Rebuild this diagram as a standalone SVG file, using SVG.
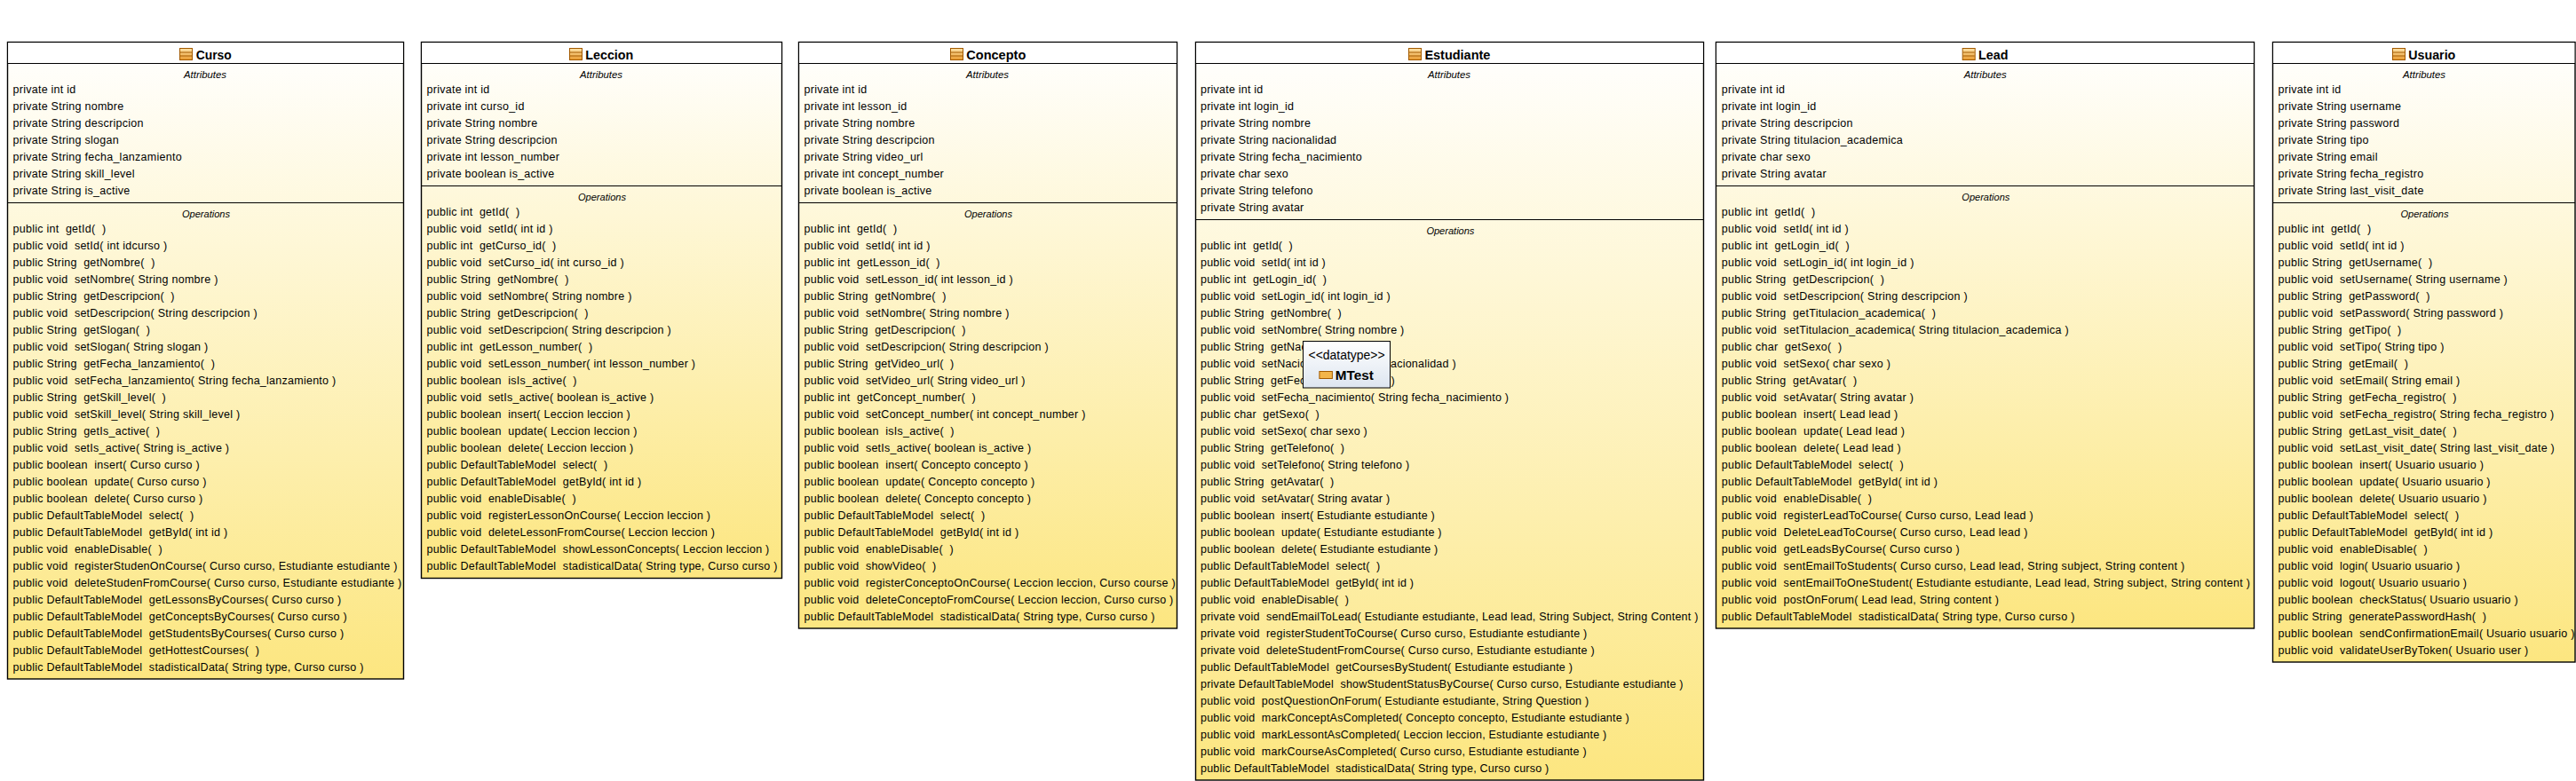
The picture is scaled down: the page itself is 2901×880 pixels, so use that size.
<svg xmlns="http://www.w3.org/2000/svg" width="2901" height="880" viewBox="0 0 2901 880">
<style>
text{font-family:"Liberation Sans",Arial,sans-serif;fill:#000;white-space:pre}
.m{font-size:12.5px;letter-spacing:.26px}
.es{letter-spacing:.22px}
.le{letter-spacing:.3px}
.h{font-size:11px;font-style:italic}
.t{font-size:14px;font-weight:bold}
.box{fill:url(#g);stroke:#000;stroke-width:1.4}
.ln{stroke:#000;stroke-width:1.2}
.tb{fill:#fff}
.dt{fill:url(#d);stroke:#000;stroke-width:1}
</style>
<defs>
<linearGradient id="g" x1="0" y1="0" x2="0" y2="1"><stop offset="0" stop-color="#fff"/><stop offset="1" stop-color="#fce680"/></linearGradient>
<linearGradient id="d" x1="0" y1="0" x2="0" y2="1"><stop offset="0" stop-color="#fff"/><stop offset="1" stop-color="#dde5f0"/></linearGradient>
<linearGradient id="o" x1="0" y1="0" x2="0" y2="1"><stop offset="0" stop-color="#fde3a8"/><stop offset="1" stop-color="#e89a30"/></linearGradient>
<g id="ic"><rect x=".5" y=".5" width="14" height="13" fill="url(#o)" stroke="#a35a00"/><path d="M1 5h13M1 9h13" stroke="#a35a00" stroke-width="1" fill="none"/></g>
</defs>
<rect width="2901" height="880" fill="#fff"/>
<g id="connectors"/>
<g id="Curso">
<rect class="box" x="8.5" y="47.5" width="446" height="717.5"/>
<rect class="tb" x="9.2" y="48.2" width="444.6" height="23"/>
<path class="ln" d="M8.5 71.5H454.5M8.5 228.5H454.5"/>
<use href="#ic" x="202" y="54"/>
<text class="t" x="220.7" y="66.7" textLength="40" lengthAdjust="spacingAndGlyphs">Curso</text>
<text class="h" x="207" y="88" textLength="48" lengthAdjust="spacingAndGlyphs">Attributes</text>
<text class="h" x="205" y="245" textLength="54" lengthAdjust="spacingAndGlyphs">Operations</text>
<g class="m">
<text x="14.5" y="105">private int id</text>
<text x="14.5" y="124">private String nombre</text>
<text x="14.5" y="143">private String descripcion</text>
<text x="14.5" y="162">private String slogan</text>
<text x="14.5" y="181">private String fecha_lanzamiento</text>
<text x="14.5" y="200">private String skill_level</text>
<text x="14.5" y="219">private String is_active</text>
<text x="14.5" y="262">public int  getId(  )</text>
<text x="14.5" y="281">public void  setId( int idcurso )</text>
<text x="14.5" y="300">public String  getNombre(  )</text>
<text x="14.5" y="319">public void  setNombre( String nombre )</text>
<text x="14.5" y="338">public String  getDescripcion(  )</text>
<text x="14.5" y="357">public void  setDescripcion( String descripcion )</text>
<text x="14.5" y="376">public String  getSlogan(  )</text>
<text x="14.5" y="395">public void  setSlogan( String slogan )</text>
<text x="14.5" y="414">public String  getFecha_lanzamiento(  )</text>
<text x="14.5" y="433">public void  setFecha_lanzamiento( String fecha_lanzamiento )</text>
<text x="14.5" y="452">public String  getSkill_level(  )</text>
<text x="14.5" y="471">public void  setSkill_level( String skill_level )</text>
<text x="14.5" y="490">public String  getIs_active(  )</text>
<text x="14.5" y="509">public void  setIs_active( String is_active )</text>
<text x="14.5" y="528">public boolean  insert( Curso curso )</text>
<text x="14.5" y="547">public boolean  update( Curso curso )</text>
<text x="14.5" y="566">public boolean  delete( Curso curso )</text>
<text x="14.5" y="585">public DefaultTableModel  select(  )</text>
<text x="14.5" y="604">public DefaultTableModel  getById( int id )</text>
<text x="14.5" y="623">public void  enableDisable(  )</text>
<text x="14.5" y="642">public void  registerStudenOnCourse( Curso curso, Estudiante estudiante )</text>
<text x="14.5" y="661">public void  deleteStudenFromCourse( Curso curso, Estudiante estudiante )</text>
<text x="14.5" y="680">public DefaultTableModel  getLessonsByCourses( Curso curso )</text>
<text x="14.5" y="699">public DefaultTableModel  getConceptsByCourses( Curso curso )</text>
<text x="14.5" y="718">public DefaultTableModel  getStudentsByCourses( Curso curso )</text>
<text x="14.5" y="737">public DefaultTableModel  getHottestCourses(  )</text>
<text x="14.5" y="756">public DefaultTableModel  stadisticalData( String type, Curso curso )</text>
</g>
</g>
<g id="Leccion">
<rect class="box" x="474.5" y="47.5" width="406" height="604"/>
<rect class="tb" x="475.2" y="48.2" width="404.6" height="23"/>
<path class="ln" d="M474.5 71.5H880.5M474.5 209.5H880.5"/>
<use href="#ic" x="641" y="54"/>
<text class="t" x="659.3" y="66.7" textLength="54" lengthAdjust="spacingAndGlyphs">Leccion</text>
<text class="h" x="653" y="88" textLength="48" lengthAdjust="spacingAndGlyphs">Attributes</text>
<text class="h" x="651" y="226" textLength="54" lengthAdjust="spacingAndGlyphs">Operations</text>
<g class="m">
<text x="480.5" y="105">private int id</text>
<text x="480.5" y="124">private int curso_id</text>
<text x="480.5" y="143">private String nombre</text>
<text x="480.5" y="162">private String descripcion</text>
<text x="480.5" y="181">private int lesson_number</text>
<text x="480.5" y="200">private boolean is_active</text>
<text x="480.5" y="243">public int  getId(  )</text>
<text x="480.5" y="262">public void  setId( int id )</text>
<text x="480.5" y="281">public int  getCurso_id(  )</text>
<text x="480.5" y="300">public void  setCurso_id( int curso_id )</text>
<text x="480.5" y="319">public String  getNombre(  )</text>
<text x="480.5" y="338">public void  setNombre( String nombre )</text>
<text x="480.5" y="357">public String  getDescripcion(  )</text>
<text x="480.5" y="376">public void  setDescripcion( String descripcion )</text>
<text x="480.5" y="395">public int  getLesson_number(  )</text>
<text x="480.5" y="414">public void  setLesson_number( int lesson_number )</text>
<text x="480.5" y="433">public boolean  isIs_active(  )</text>
<text x="480.5" y="452">public void  setIs_active( boolean is_active )</text>
<text x="480.5" y="471">public boolean  insert( Leccion leccion )</text>
<text x="480.5" y="490">public boolean  update( Leccion leccion )</text>
<text x="480.5" y="509">public boolean  delete( Leccion leccion )</text>
<text x="480.5" y="528">public DefaultTableModel  select(  )</text>
<text x="480.5" y="547">public DefaultTableModel  getById( int id )</text>
<text x="480.5" y="566">public void  enableDisable(  )</text>
<text x="480.5" y="585">public void  registerLessonOnCourse( Leccion leccion )</text>
<text x="480.5" y="604">public void  deleteLessonFromCourse( Leccion leccion )</text>
<text x="480.5" y="623">public DefaultTableModel  showLessonConcepts( Leccion leccion )</text>
<text x="480.5" y="642">public DefaultTableModel  stadisticalData( String type, Curso curso )</text>
</g>
</g>
<g id="Concepto">
<rect class="box" x="899.5" y="47.5" width="426" height="660.5"/>
<rect class="tb" x="900.2" y="48.2" width="424.6" height="23"/>
<path class="ln" d="M899.5 71.5H1325.5M899.5 228.5H1325.5"/>
<use href="#ic" x="1070" y="54"/>
<text class="t" x="1088.3" y="66.7" textLength="67" lengthAdjust="spacingAndGlyphs">Concepto</text>
<text class="h" x="1088" y="88" textLength="48" lengthAdjust="spacingAndGlyphs">Attributes</text>
<text class="h" x="1086" y="245" textLength="54" lengthAdjust="spacingAndGlyphs">Operations</text>
<g class="m">
<text x="905.5" y="105">private int id</text>
<text x="905.5" y="124">private int lesson_id</text>
<text x="905.5" y="143">private String nombre</text>
<text x="905.5" y="162">private String descripcion</text>
<text x="905.5" y="181">private String video_url</text>
<text x="905.5" y="200">private int concept_number</text>
<text x="905.5" y="219">private boolean is_active</text>
<text x="905.5" y="262">public int  getId(  )</text>
<text x="905.5" y="281">public void  setId( int id )</text>
<text x="905.5" y="300">public int  getLesson_id(  )</text>
<text x="905.5" y="319">public void  setLesson_id( int lesson_id )</text>
<text x="905.5" y="338">public String  getNombre(  )</text>
<text x="905.5" y="357">public void  setNombre( String nombre )</text>
<text x="905.5" y="376">public String  getDescripcion(  )</text>
<text x="905.5" y="395">public void  setDescripcion( String descripcion )</text>
<text x="905.5" y="414">public String  getVideo_url(  )</text>
<text x="905.5" y="433">public void  setVideo_url( String video_url )</text>
<text x="905.5" y="452">public int  getConcept_number(  )</text>
<text x="905.5" y="471">public void  setConcept_number( int concept_number )</text>
<text x="905.5" y="490">public boolean  isIs_active(  )</text>
<text x="905.5" y="509">public void  setIs_active( boolean is_active )</text>
<text x="905.5" y="528">public boolean  insert( Concepto concepto )</text>
<text x="905.5" y="547">public boolean  update( Concepto concepto )</text>
<text x="905.5" y="566">public boolean  delete( Concepto concepto )</text>
<text x="905.5" y="585">public DefaultTableModel  select(  )</text>
<text x="905.5" y="604">public DefaultTableModel  getById( int id )</text>
<text x="905.5" y="623">public void  enableDisable(  )</text>
<text x="905.5" y="642">public void  showVideo(  )</text>
<text x="905.5" y="661">public void  registerConceptoOnCourse( Leccion leccion, Curso course )</text>
<text x="905.5" y="680">public void  deleteConceptoFromCourse( Leccion leccion, Curso curso )</text>
<text x="905.5" y="699">public DefaultTableModel  stadisticalData( String type, Curso curso )</text>
</g>
</g>
<g id="Estudiante">
<rect class="box" x="1346.5" y="47.5" width="572" height="831.5"/>
<rect class="tb" x="1347.2" y="48.2" width="570.6" height="23"/>
<path class="ln" d="M1346.5 71.5H1918.5M1346.5 247.5H1918.5"/>
<use href="#ic" x="1586" y="54"/>
<text class="t" x="1604.4" y="66.7" textLength="74" lengthAdjust="spacingAndGlyphs">Estudiante</text>
<text class="h" x="1608" y="88" textLength="48" lengthAdjust="spacingAndGlyphs">Attributes</text>
<text class="h" x="1606.4" y="264" textLength="54" lengthAdjust="spacingAndGlyphs">Operations</text>
<g class="m es" transform="translate(1352 0)">
<text y="105">private int id</text>
<text y="124">private int login_id</text>
<text y="143">private String nombre</text>
<text y="162">private String nacionalidad</text>
<text y="181">private String fecha_nacimiento</text>
<text y="200">private char sexo</text>
<text y="219">private String telefono</text>
<text y="238">private String avatar</text>
<text y="281">public int  getId(  )</text>
<text y="300">public void  setId( int id )</text>
<text y="319">public int  getLogin_id(  )</text>
<text y="338">public void  setLogin_id( int login_id )</text>
<text y="357">public String  getNombre(  )</text>
<text y="376">public void  setNombre( String nombre )</text>
<text y="395">public String  getNacionalidad(  )</text>
<text y="414">public void  setNacionalidad( String nacionalidad )</text>
<text y="433">public String  getFecha_nacimiento(  )</text>
<text y="452">public void  setFecha_nacimiento( String fecha_nacimiento )</text>
<text y="471">public char  getSexo(  )</text>
<text y="490">public void  setSexo( char sexo )</text>
<text y="509">public String  getTelefono(  )</text>
<text y="528">public void  setTelefono( String telefono )</text>
<text y="547">public String  getAvatar(  )</text>
<text y="566">public void  setAvatar( String avatar )</text>
<text y="585">public boolean  insert( Estudiante estudiante )</text>
<text y="604">public boolean  update( Estudiante estudiante )</text>
<text y="623">public boolean  delete( Estudiante estudiante )</text>
<text y="642">public DefaultTableModel  select(  )</text>
<text y="661">public DefaultTableModel  getById( int id )</text>
<text y="680">public void  enableDisable(  )</text>
<text y="699">private void  sendEmailToLead( Estudiante estudiante, Lead lead, String Subject, String Content )</text>
<text y="718">private void  registerStudentToCourse( Curso curso, Estudiante estudiante )</text>
<text y="737">private void  deleteStudentFromCourse( Curso curso, Estudiante estudiante )</text>
<text y="756">public DefaultTableModel  getCoursesByStudent( Estudiante estudiante )</text>
<text y="775">private DefaultTableModel  showStudentStatusByCourse( Curso curso, Estudiante estudiante )</text>
<text y="794">public void  postQuestionOnForum( Estudiante estudiante, String Question )</text>
<text y="813">public void  markConceptAsCompleted( Concepto concepto, Estudiante estudiante )</text>
<text y="832">public void  markLessontAsCompleted( Leccion leccion, Estudiante estudiante )</text>
<text y="851">public void  markCourseAsCompleted( Curso curso, Estudiante estudiante )</text>
<text y="870">public DefaultTableModel  stadisticalData( String type, Curso curso )</text>
</g>
</g>
<g id="Lead">
<rect class="box" x="1932.5" y="47.5" width="606" height="660.5"/>
<rect class="tb" x="1933.2" y="48.2" width="604.6" height="23"/>
<path class="ln" d="M1932.5 71.5H2538.5M1932.5 209.5H2538.5"/>
<use href="#ic" x="2209.7" y="54"/>
<text class="t" x="2228" y="66.7" textLength="33.4" lengthAdjust="spacingAndGlyphs">Lead</text>
<text class="h" x="2211.7" y="88" textLength="48" lengthAdjust="spacingAndGlyphs">Attributes</text>
<text class="h" x="2209.3" y="226" textLength="54" lengthAdjust="spacingAndGlyphs">Operations</text>
<g class="m le" transform="translate(1938.7 0)">
<text y="105">private int id</text>
<text y="124">private int login_id</text>
<text y="143">private String descripcion</text>
<text y="162">private String titulacion_academica</text>
<text y="181">private char sexo</text>
<text y="200">private String avatar</text>
<text y="243">public int  getId(  )</text>
<text y="262">public void  setId( int id )</text>
<text y="281">public int  getLogin_id(  )</text>
<text y="300">public void  setLogin_id( int login_id )</text>
<text y="319">public String  getDescripcion(  )</text>
<text y="338">public void  setDescripcion( String descripcion )</text>
<text y="357">public String  getTitulacion_academica(  )</text>
<text y="376">public void  setTitulacion_academica( String titulacion_academica )</text>
<text y="395">public char  getSexo(  )</text>
<text y="414">public void  setSexo( char sexo )</text>
<text y="433">public String  getAvatar(  )</text>
<text y="452">public void  setAvatar( String avatar )</text>
<text y="471">public boolean  insert( Lead lead )</text>
<text y="490">public boolean  update( Lead lead )</text>
<text y="509">public boolean  delete( Lead lead )</text>
<text y="528">public DefaultTableModel  select(  )</text>
<text y="547">public DefaultTableModel  getById( int id )</text>
<text y="566">public void  enableDisable(  )</text>
<text y="585">public void  registerLeadToCourse( Curso curso, Lead lead )</text>
<text y="604">public void  DeleteLeadToCourse( Curso curso, Lead lead )</text>
<text y="623">public void  getLeadsByCourse( Curso curso )</text>
<text y="642">public void  sentEmailToStudents( Curso curso, Lead lead, String subject, String content )</text>
<text y="661">public void  sentEmailToOneStudent( Estudiante estudiante, Lead lead, String subject, String content )</text>
<text y="680">public void  postOnForum( Lead lead, String content )</text>
<text y="699">public DefaultTableModel  stadisticalData( String type, Curso curso )</text>
</g>
</g>
<g id="Usuario">
<rect class="box" x="2559.5" y="47.5" width="340.5" height="698.5"/>
<rect class="tb" x="2560.2" y="48.2" width="339.1" height="23"/>
<path class="ln" d="M2559.5 71.5H2900M2559.5 228.5H2900"/>
<use href="#ic" x="2694" y="54"/>
<text class="t" x="2712.3" y="66.7" textLength="53" lengthAdjust="spacingAndGlyphs">Usuario</text>
<text class="h" x="2706" y="88" textLength="48" lengthAdjust="spacingAndGlyphs">Attributes</text>
<text class="h" x="2703.5" y="245" textLength="54" lengthAdjust="spacingAndGlyphs">Operations</text>
<g class="m">
<text x="2565.5" y="105">private int id</text>
<text x="2565.5" y="124">private String username</text>
<text x="2565.5" y="143">private String password</text>
<text x="2565.5" y="162">private String tipo</text>
<text x="2565.5" y="181">private String email</text>
<text x="2565.5" y="200">private String fecha_registro</text>
<text x="2565.5" y="219">private String last_visit_date</text>
<text x="2565.5" y="262">public int  getId(  )</text>
<text x="2565.5" y="281">public void  setId( int id )</text>
<text x="2565.5" y="300">public String  getUsername(  )</text>
<text x="2565.5" y="319">public void  setUsername( String username )</text>
<text x="2565.5" y="338">public String  getPassword(  )</text>
<text x="2565.5" y="357">public void  setPassword( String password )</text>
<text x="2565.5" y="376">public String  getTipo(  )</text>
<text x="2565.5" y="395">public void  setTipo( String tipo )</text>
<text x="2565.5" y="414">public String  getEmail(  )</text>
<text x="2565.5" y="433">public void  setEmail( String email )</text>
<text x="2565.5" y="452">public String  getFecha_registro(  )</text>
<text x="2565.5" y="471">public void  setFecha_registro( String fecha_registro )</text>
<text x="2565.5" y="490">public String  getLast_visit_date(  )</text>
<text x="2565.5" y="509">public void  setLast_visit_date( String last_visit_date )</text>
<text x="2565.5" y="528">public boolean  insert( Usuario usuario )</text>
<text x="2565.5" y="547">public boolean  update( Usuario usuario )</text>
<text x="2565.5" y="566">public boolean  delete( Usuario usuario )</text>
<text x="2565.5" y="585">public DefaultTableModel  select(  )</text>
<text x="2565.5" y="604">public DefaultTableModel  getById( int id )</text>
<text x="2565.5" y="623">public void  enableDisable(  )</text>
<text x="2565.5" y="642">public void  login( Usuario usuario )</text>
<text x="2565.5" y="661">public void  logout( Usuario usuario )</text>
<text x="2565.5" y="680">public boolean  checkStatus( Usuario usuario )</text>
<text x="2565.5" y="699">public String  generatePasswordHash(  )</text>
<text x="2565.5" y="718">public boolean  sendConfirmationEmail( Usuario usuario )</text>
<text x="2565.5" y="737">public void  validateUserByToken( Usuario user )</text>
</g>
</g>
<g id="MTest">
<rect class="dt" x="1467.5" y="384.5" width="98" height="52.5"/>
<text x="1473.6" y="405" font-size="14" textLength="86" lengthAdjust="spacingAndGlyphs">&lt;&lt;datatype&gt;&gt;</text>
<g transform="translate(1485.4 418)"><rect x=".5" y=".5" width="14.5" height="8" fill="#f3b54a" stroke="#a35a00"/></g>
<text x="1503.8" y="428" font-size="14" font-weight="bold" textLength="43" lengthAdjust="spacingAndGlyphs">MTest</text>
</g>
</svg>
